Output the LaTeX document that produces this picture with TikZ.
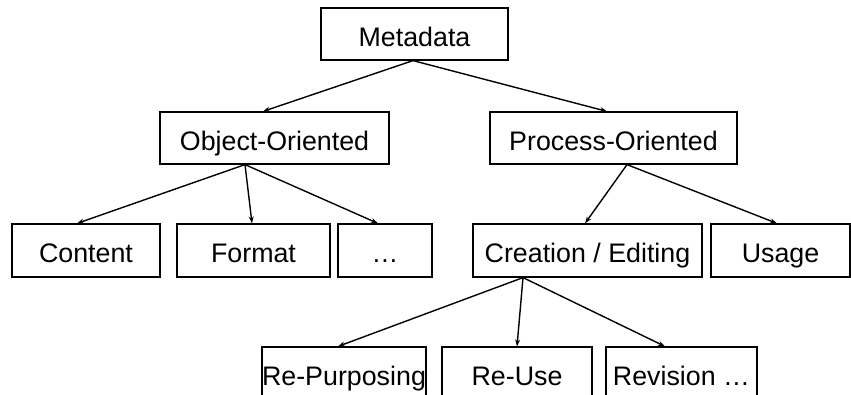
\documentclass[tikz,border=0pt]{standalone}
\usepackage{fontspec}
\setmainfont{Liberation Sans}
\usetikzlibrary{arrows.meta}
\begin{document}
\begin{tikzpicture}[x=1pt,y=-1pt,
  box/.style={draw, line width=1.2pt, rectangle, inner sep=0pt,
    minimum height=53pt, text height=24pt, text depth=0pt,
    font=\fontsize{26.8}{30}\selectfont},
  link/.style={line width=1.4pt, -{Stealth[length=7pt,width=5pt]}}]
\useasboundingbox (0,0) rectangle (851,394);
\fill[white] (0,0) rectangle (851,394);
\begin{scope}
\clip (0,0) rectangle (851,394);
% top level
\node[box, minimum width=187pt, minimum height=52pt] (meta) at (414.5,34) {Metadata};
% second level
\node[box, minimum width=229pt, minimum height=52pt] (obj) at (274.5,138) {Object-Oriented};
\node[box, minimum width=247pt, minimum height=52pt] (proc) at (613.5,138) {Process-Oriented};
% third level
\node[box, minimum width=148pt] (content) at (86,250.5) {Content};
\node[box, minimum width=153pt] (format) at (253.5,250.5) {Format};
\node[box, minimum width=94pt] (dots) at (385,250.5) {\dots};
\node[box, minimum width=229pt] (create) at (587.5,250.5) {Creation / Editing};
\node[box, minimum width=139pt] (usage) at (780.5,250.5) {Usage};
% fourth level
\node[box, minimum width=150pt] (repurp) at (344,373.5) {Re-Purposing};
\node[box, minimum width=150pt] (reuse) at (517,373.5) {Re-Use};
\node[box, minimum width=151pt] (revision) at (681.5,373.5) {Revision \dots};
% connectors
\draw[link] ([xshift=-1.5pt]meta.south) -- ([xshift=-11.5pt]obj.north);
\draw[link] ([xshift=-1.5pt]meta.south) -- ([xshift=-6.5pt]proc.north);
\draw[link] ([xshift=-29.5pt]obj.south) -- ([xshift=-9pt]content.north);
\draw[link] ([xshift=-29.5pt]obj.south) -- ([xshift=-1.5pt]format.north);
\draw[link] ([xshift=-29.5pt]obj.south) -- ([xshift=-7pt]dots.north);
\draw[link] ([xshift=13.5pt]proc.south) -- ([xshift=-2.5pt]create.north);
\draw[link] ([xshift=13.5pt]proc.south) -- ([xshift=-3.5pt]usage.north);
\draw[link] ([xshift=-64.5pt]create.south) -- ([xshift=-6pt]repurp.north);
\draw[link] ([xshift=-64.5pt]create.south) -- (reuse.north);
\draw[link] ([xshift=-64.5pt]create.south) -- ([xshift=-16.5pt]revision.north);
\end{scope}
\end{tikzpicture}
\end{document}
